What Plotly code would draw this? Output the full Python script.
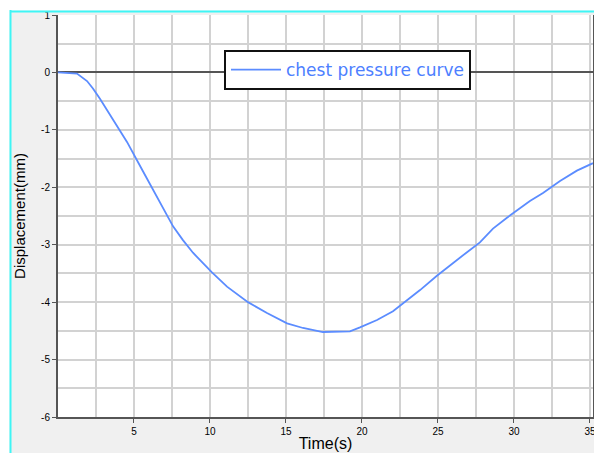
import plotly.graph_objects as go

# Data
time_s = [0, 1.25, 1.91, 2.30, 2.76, 3.22, 3.88, 4.54, 5.59, 6.25, 6.91, 7.57,
          8.22, 8.88, 10.13, 11.12, 12.5, 13.75, 15.07, 16.12, 17.43, 19.21, 19.87,
          20.99, 22.04, 23.16, 23.82, 24.93, 25.92, 26.91, 27.76, 28.62, 29.54,
          30.39, 31.05, 31.91, 33.03, 34.14, 35.2]
displacement = [0, -0.02, -0.15, -0.28, -0.46, -0.65, -0.93, -1.21, -1.72,
                -2.04, -2.38, -2.68, -2.92, -3.14, -3.48, -3.73, -4.00, -4.19, -4.37,
                -4.45, -4.52, -4.51, -4.44, -4.31, -4.16, -3.93, -3.79, -3.54, -3.33,
                -3.13, -2.96, -2.72, -2.53, -2.36, -2.24, -2.10, -1.89, -1.71, -1.58]
x_ticks = [5, 10, 15, 20, 25, 30, 35]
y_ticks = [1, 0, -1, -2, -3, -4, -5, -6]
series_name = "chest pressure curve"

W, H = 594, 453
L, R, T, B = 58, 1, 15, 36
PW, PH = W - L - R, H - T - B


def px(x):
    return (x - L) / PW


def py(y):
    return (H - B - y) / PH


fig = go.Figure()
fig.add_trace(go.Scatter(
    x=time_s, y=displacement, mode="lines", name=series_name,
    line=dict(color="#5b8cff", width=1.8),
))

grid = "#d2d2d2"
axis_col = "#555555"

fig.update_layout(
    width=W, height=H,
    margin=dict(l=L, r=R, t=T, b=B, pad=0, autoexpand=False),
    paper_bgcolor="#f0f0f0",
    plot_bgcolor="white",
    showlegend=True,
    legend=dict(
        x=px(224), y=py(50), xanchor="left", yanchor="top",
        bgcolor="white", bordercolor="#111111", borderwidth=2,
        font=dict(family="DejaVu Sans", size=17, color="#4d80ff"),
        itemwidth=50,
    ),
    font=dict(family="Liberation Sans, Arial", color="black"),
    xaxis=dict(
        range=[0, 35.2], tickmode="array", tickvals=x_ticks,
        ticktext=[str(v) for v in x_ticks],
        showgrid=True, gridcolor=grid, gridwidth=1.5,
        minor=dict(tickmode="linear", tick0=0, dtick=2.5, showgrid=True,
                   gridcolor=grid, gridwidth=1.5),
        showline=True, linecolor=axis_col, linewidth=2,
        ticks="outside", ticklen=4, tickcolor=axis_col,
        tickfont=dict(size=10, color="black"),
        ticklabeloverflow="allow",
        zeroline=False, automargin=False,
        title=dict(text="Time(s)", font=dict(size=16, color="black"), standoff=2),
    ),
    yaxis=dict(
        range=[-6, 1], tickmode="array", tickvals=y_ticks,
        ticktext=[str(v) for v in y_ticks],
        showgrid=True, gridcolor=grid, gridwidth=1.5,
        minor=dict(tickmode="linear", tick0=0, dtick=0.5, showgrid=True,
                   gridcolor=grid, gridwidth=1.5),
        showline=True, linecolor=axis_col, linewidth=2, mirror=True,
        ticks="outside", ticklen=4, tickcolor=axis_col,
        tickfont=dict(size=10, color="black"),
        zeroline=True, zerolinecolor=axis_col, zerolinewidth=2, automargin=False,
        title=dict(text="Displacement(mm)", font=dict(size=15, color="black"), standoff=12),
    ),
    shapes=[
        # white strips outside the cyan frame
        dict(type="rect", xref="paper", yref="paper", x0=px(0), x1=px(9.5),
             y0=py(H), y1=py(0), fillcolor="white", line=dict(width=0), layer="below"),
        dict(type="rect", xref="paper", yref="paper", x0=px(0), x1=px(W),
             y0=py(10.5), y1=py(0), fillcolor="white", line=dict(width=0), layer="below"),
        # cyan frame
        dict(type="line", xref="paper", yref="paper", x0=px(10.5), x1=px(10.5),
             y0=py(H), y1=py(10), line=dict(color="#3ff5f5", width=2)),
        dict(type="line", xref="paper", yref="paper", x0=px(10), x1=px(W),
             y0=py(11.5), y1=py(11.5), line=dict(color="#3ff5f5", width=2)),
    ],
)

fig.write_html(
    "out.html",
    config={"displayModeBar": False},
    post_script="document.body.style.margin='0';document.body.style.overflow='hidden';",
)
